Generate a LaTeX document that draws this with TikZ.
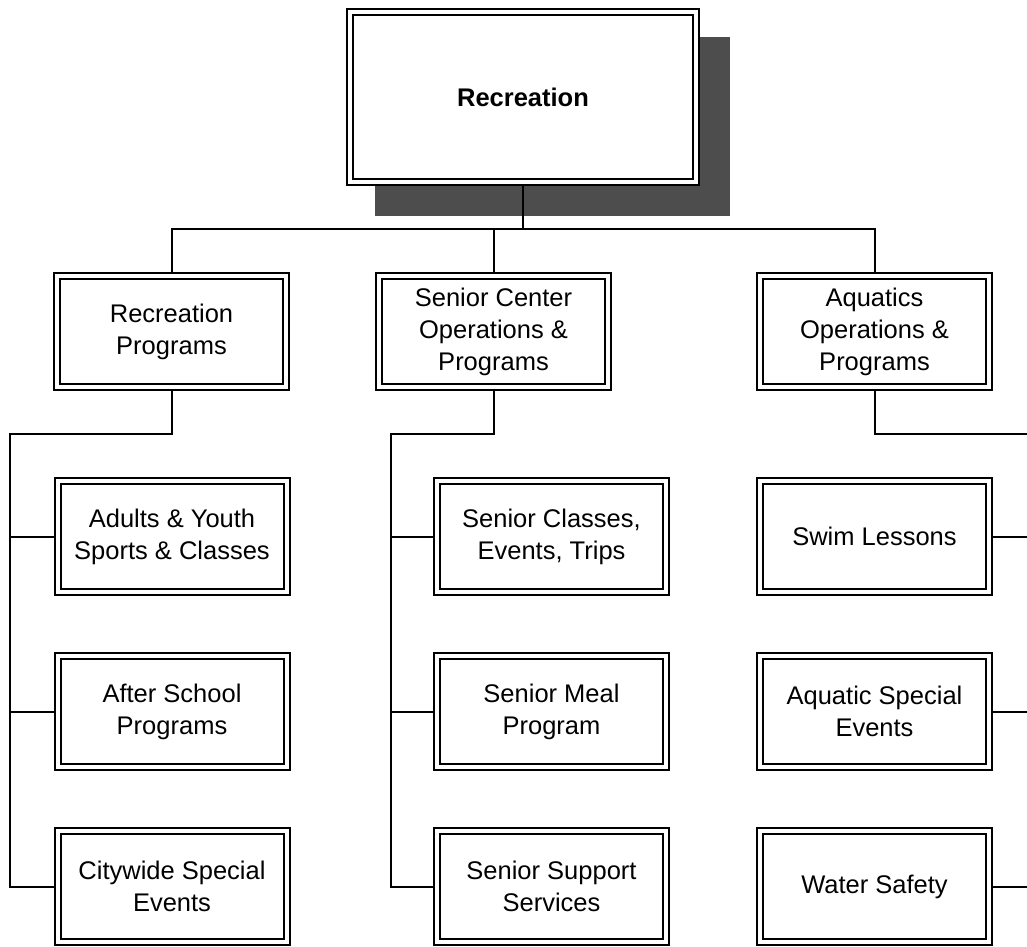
\documentclass[tikz,border=0pt]{standalone}
\usepackage{fontspec}
\setmainfont{Liberation Sans}
\usetikzlibrary{backgrounds}
\definecolor{shadowgray}{HTML}{4D4D4D}
\tikzset{
  orgbox/.style={draw=black, line width=2pt, double=white, double distance=4pt,
    fill=white, inner sep=0pt, align=center,
    minimum width=229pt, minimum height=111pt,
    font=\fontsize{25.5}{32}\selectfont},
  topbox/.style={orgbox, minimum width=346pt, minimum height=170pt,
    font=\fontsize{25.5}{32}\selectfont\bfseries},
  conn/.style={draw=black, line width=2pt}
}
\begin{document}
\begin{tikzpicture}[x=1pt,y=-1pt]
\useasboundingbox (0,0) rectangle (1027,946);
% nodes
\node[topbox] (top) at (523,97) {Recreation};
\node[orgbox] (rp) at (171.5,331.5) {Recreation\\Programs};
\node[orgbox] (sc) at (493.5,331.5) {Senior Center\\Operations \&\\Programs};
\node[orgbox] (aq) at (874.5,331.5) {Aquatics\\Operations \&\\Programs};
\node[orgbox] (rp1) at (172,536.5) {Adults \& Youth\\Sports \& Classes};
\node[orgbox] (rp2) at (172,711.5) {After School\\Programs};
\node[orgbox] (rp3) at (172,886.5) {Citywide Special\\Events};
\node[orgbox] (sc1) at (551.5,536.5) {Senior Classes,\\Events, Trips};
\node[orgbox] (sc2) at (551.5,711.5) {Senior Meal\\Program};
\node[orgbox] (sc3) at (551.5,886.5) {Senior Support\\Services};
\node[orgbox] (aq1) at (874.5,536.5) {Swim Lessons};
\node[orgbox] (aq2) at (874.5,711.5) {Aquatic Special\\Events};
\node[orgbox] (aq3) at (874.5,886.5) {Water Safety};
% coordinates for bus lines
\coordinate (bus) at (523,229);
\coordinate (rpL) at (10,434);
\coordinate (scL) at (391,434);
\coordinate (aqR) at (1027,434);
\begin{scope}[on background layer]
  \fill[shadowgray] ([shift={(26pt,-26pt)}]top.north west) rectangle ([shift={(33pt,-33pt)}]top.south east);
  \draw[conn] (top.south) -- (bus);
  \draw[conn] (rp.north) |- (bus) -| (aq.north);
  \draw[conn] (sc.north) -- (sc.north |- bus);
  % recreation programs
  \draw[conn] (rp.south) |- (rpL) |- (rp3.west);
  \draw[conn] (rpL |- rp1.west) -- (rp1.west);
  \draw[conn] (rpL |- rp2.west) -- (rp2.west);
  % senior center
  \draw[conn] (sc.south) |- (scL) |- (sc3.west);
  \draw[conn] (scL |- sc1.west) -- (sc1.west);
  \draw[conn] (scL |- sc2.west) -- (sc2.west);
  % aquatics
  \draw[conn] (aq.south) |- (aqR);
  \draw[conn] (aq1.east) -- (aq1.east -| aqR);
  \draw[conn] (aq2.east) -- (aq2.east -| aqR);
  \draw[conn] (aq3.east) -- (aq3.east -| aqR);
\end{scope}
\end{tikzpicture}
\end{document}
